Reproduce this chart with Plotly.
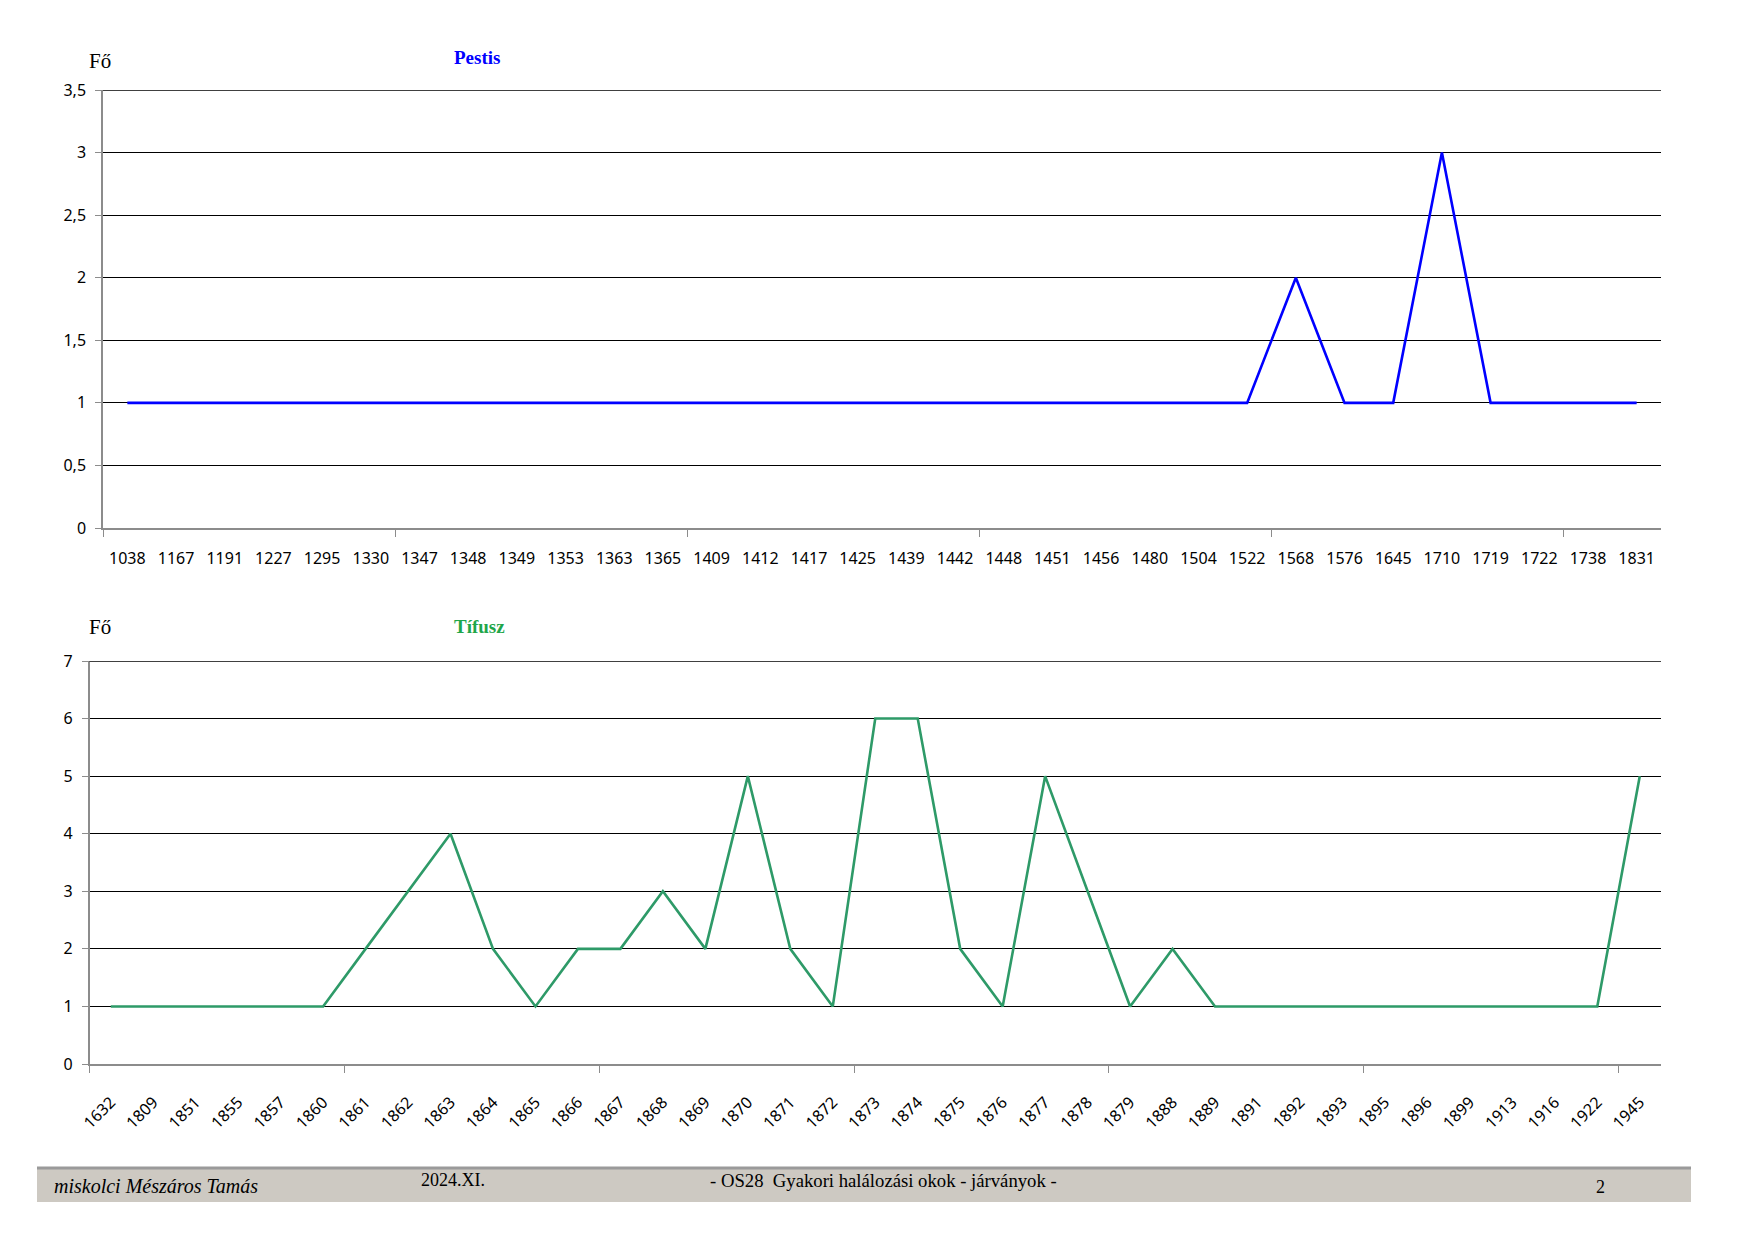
import plotly.graph_objects as go

# ---------------- data ----------------
pestis_years = ["1038", "1167", "1191", "1227", "1295", "1330", "1347", "1348",
                "1349", "1353", "1363", "1365", "1409", "1412", "1417", "1425",
                "1439", "1442", "1448", "1451", "1456", "1480", "1504", "1522",
                "1568", "1576", "1645", "1710", "1719", "1722", "1738", "1831"]
pestis_values = [1, 1, 1, 1, 1, 1, 1, 1,
                 1, 1, 1, 1, 1, 1, 1, 1,
                 1, 1, 1, 1, 1, 1, 1, 1,
                 2, 1, 1, 3, 1, 1, 1, 1]

tifusz_years = ["1632", "1809", "1851", "1855", "1857", "1860", "1861", "1862",
                "1863", "1864", "1865", "1866", "1867", "1868", "1869", "1870",
                "1871", "1872", "1873", "1874", "1875", "1876", "1877", "1878",
                "1879", "1888", "1889", "1891", "1892", "1893", "1895", "1896",
                "1899", "1913", "1916", "1922", "1945"]
tifusz_values = [1, 1, 1, 1, 1, 1, 2, 3,
                 4, 2, 1, 2, 2, 3, 2, 5,
                 2, 1, 6, 6, 2, 1, 5, 3,
                 1, 2, 1, 1, 1, 1, 1, 1,
                 1, 1, 1, 1, 5]

pestis_yticks = [0, 0.5, 1, 1.5, 2, 2.5, 3, 3.5]
tifusz_yticks = [0, 1, 2, 3, 4, 5, 6, 7]

# page is 1754x1240; the browser's default 8px body margin surrounds the figure
PAGE_W, PAGE_H, M = 1754, 1240, 8
W, H = PAGE_W - 2 * M, PAGE_H - 2 * M


def px(x):
    return (x - M) / W


def py(y):
    return 1 - (y - M) / H


pestis_idx = list(range(len(pestis_years)))
tifusz_idx = list(range(len(tifusz_years)))

fig = go.Figure()
fig.add_trace(go.Scatter(x=pestis_idx, y=pestis_values, mode="lines",
                         line=dict(color="#0000FF", width=2.6),
                         xaxis="x", yaxis="y", showlegend=False))
fig.add_trace(go.Scatter(x=tifusz_idx, y=tifusz_values, mode="lines",
                         line=dict(color="#2E9A68", width=2.6),
                         xaxis="x2", yaxis="y2", showlegend=False))

AXIS_GRAY = "#8C8C8C"
common_x = dict(showgrid=False, zeroline=False, showline=True, automargin=False,
                linecolor=AXIS_GRAY, linewidth=1.5, ticks="",
                tickmode="array", fixedrange=True)
common_y = dict(showgrid=True, gridcolor="#000000", gridwidth=1.2, automargin=False,
                zeroline=False, showline=True, linecolor=AXIS_GRAY,
                linewidth=1.5, ticks="outside", ticklen=6, tickcolor=AXIS_GRAY,
                tickfont=dict(family="Noto Sans", size=16, color="#000000"),
                ticklabelstandoff=6,
                tickmode="array", fixedrange=True)

fig.update_layout(
    width=W, height=H, autosize=False,
    margin=dict(l=0, r=0, t=0, b=0, autoexpand=False),
    paper_bgcolor="white", plot_bgcolor="white",
    separators=", ",
    xaxis=dict(common_x, domain=[px(103), px(1661)], anchor="y",
               range=[-0.5, len(pestis_years) - 0.5],
               tickvals=pestis_idx, ticktext=pestis_years, tickangle=0,
               tickfont=dict(family="Noto Sans", size=16, color="#000000"),
               ticklabelstandoff=15,
               minor=dict(tickvals=[i - 0.5 for i in range(0, len(pestis_years), 6)],
                          ticks="outside", ticklen=7, tickcolor=AXIS_GRAY,
                          showgrid=False)),
    yaxis=dict(common_y, domain=[py(528), py(90)], anchor="x",
               range=[pestis_yticks[0], pestis_yticks[-1]], tickvals=pestis_yticks),
    xaxis2=dict(common_x, domain=[px(89.5), px(1661)], anchor="y2",
                range=[-0.5, len(tifusz_years) - 0.5],
                tickvals=tifusz_idx, ticktext=tifusz_years, tickangle=-45,
                tickfont=dict(family="Noto Sans", size=16, color="#000000"),
                ticklabelstandoff=21,
                minor=dict(tickvals=[i - 0.5 for i in range(0, len(tifusz_years), 6)],
                           ticks="outside", ticklen=7, tickcolor=AXIS_GRAY,
                           showgrid=False)),
    yaxis2=dict(common_y, domain=[py(1064), py(661)], anchor="x2",
                range=[tifusz_yticks[0], tifusz_yticks[-1]], tickvals=tifusz_yticks),
)

# top gridlines (plotly hides the gridline lying on the plot edge)
fig.add_shape(type="line", xref="x domain", yref="y", x0=0, x1=1,
              y0=pestis_yticks[-1], y1=pestis_yticks[-1],
              line=dict(color="#000000", width=1.5))
fig.add_shape(type="line", xref="x2 domain", yref="y2", x0=0, x1=1,
              y0=tifusz_yticks[-1], y1=tifusz_yticks[-1],
              line=dict(color="#000000", width=1.5))

SERIF = "Liberation Serif"
annotations = [
    dict(text="Fő", x=px(87), y=py(61), font=dict(family=SERIF, size=21, color="#000000")),
    dict(text="<b>Pestis</b>", x=px(452), y=py(58), font=dict(family=SERIF, size=19, color="#0000FF")),
    dict(text="Fő", x=px(87), y=py(627), font=dict(family=SERIF, size=21, color="#000000")),
    dict(text="<b>Tífusz</b>", x=px(452), y=py(626), font=dict(family=SERIF, size=19, color="#1FA64A")),
    dict(text="<i>miskolci Mészáros Tamás</i>", x=px(52), y=py(1186), font=dict(family=SERIF, size=20, color="#000000")),
    dict(text="2024.XI.", x=px(419), y=py(1180), font=dict(family=SERIF, size=18, color="#000000")),
    dict(text="- OS28  Gyakori halálozási okok - járványok -", x=px(708), y=py(1180), font=dict(family=SERIF, size=18.7, color="#000000")),
    dict(text="2", x=px(1594), y=py(1187), font=dict(family=SERIF, size=18, color="#000000")),
]
for a in annotations:
    fig.add_annotation(xref="paper", yref="paper", xanchor="left", yanchor="middle",
                       showarrow=False, **a)

fig.add_shape(type="rect", xref="paper", yref="paper",
              x0=px(37), x1=px(1691), y0=py(1202), y1=py(1168),
              fillcolor="#CDC9C2", line=dict(width=0), layer="below")
fig.add_shape(type="line", xref="paper", yref="paper",
              x0=px(37), x1=px(1691), y0=py(1168), y1=py(1168),
              line=dict(color="#9A9A9A", width=3))

fig.write_html("out.html", config={"displayModeBar": False})
